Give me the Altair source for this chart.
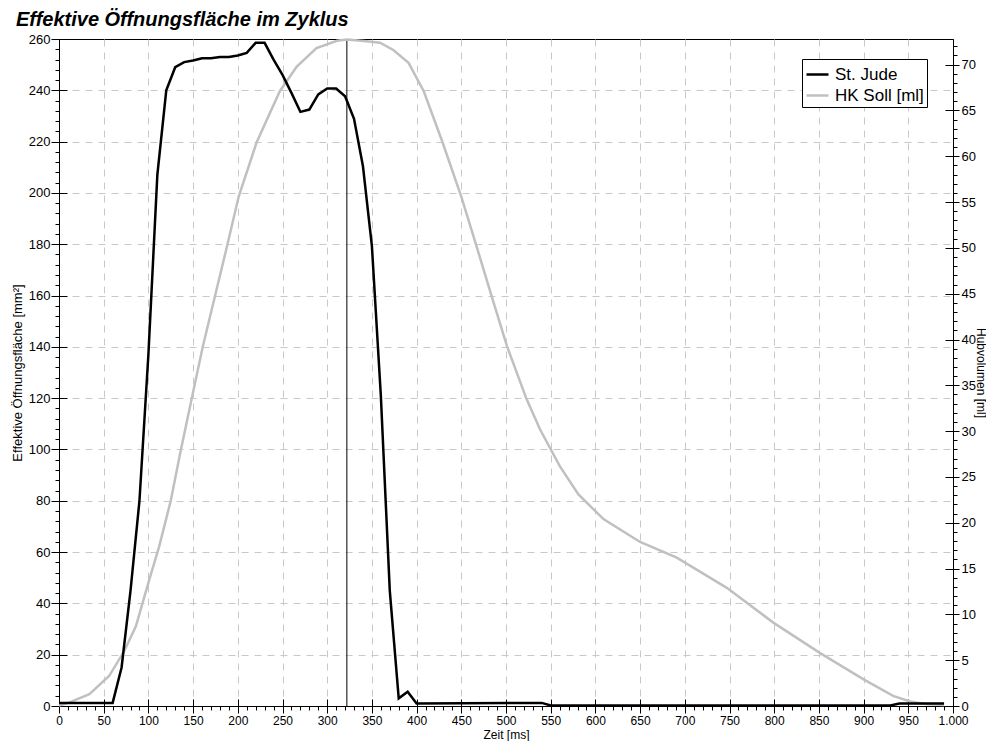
import altair as alt
import pandas as pd

# ---- data ----
jude_t = [0, 60, 70, 80, 90, 100, 110, 120, 130, 140, 150, 160, 170, 180, 190, 200,
          210, 220, 230, 240, 250, 260, 270, 280, 290, 300, 310, 320, 330, 340, 350,
          360, 370, 380, 390, 400, 540, 550, 930, 940, 990]
jude_v = [1.2, 1.2, 15, 45, 80, 137, 207, 240, 249, 251, 251.6, 252.5, 252.5, 253, 253, 253.6,
          254.6, 258.5, 258.5, 252, 246, 239, 231.6, 232.5, 238.4, 240.7, 240.7, 237.7, 228.9, 210.4, 179.3,
          121, 45, 3, 5.6, 1.0, 1.2, 0.2, 0.2, 1.0, 1.0]

hk_t = [0, 11, 34, 56, 73, 86, 101, 112, 125, 136, 149, 161, 188, 201, 221, 247, 266, 288,
        311, 322, 344, 359, 374, 391, 408, 428, 450, 467, 484, 501, 523, 538, 560, 581,
        609, 650, 691, 747, 799, 851, 900, 933, 952, 971, 990]
hk_ml = [0.05, 0.37, 1.28, 3.27, 6.0, 8.7, 13.8, 17.4, 22.4, 27.8, 33.8, 39.3, 50.2, 55.6, 61.5, 67.1, 69.8, 71.8,
         72.6, 72.75, 72.55, 72.4, 71.6, 70.2, 67.1, 61.8, 55.6, 50.2, 44.7, 39.3, 33.5, 30.2, 26.2, 23.1,
         20.4, 17.9, 16.2, 12.9, 9.1, 5.8, 2.9, 1.1, 0.5, 0.2, 0.1]

cursor_t = [322]

series_names = ["St. Jude", "HK Soll [ml]"]
series_colors = ["#000000", "#c0c0c0"]

x_major = list(range(0, 1001, 50))
x_minor = list(range(0, 1001, 10))
x_grid = list(range(50, 951, 50))
yl_major = list(range(0, 261, 20))
yl_minor = list(range(0, 261, 4))
yl_grid = list(range(20, 241, 20))
yr_major = list(range(0, 71, 5))
yr_minor = list(range(0, 73, 1))

W, H = 894, 667
FONT = "Liberation Sans"

jude = pd.DataFrame({"t": jude_t, "v": jude_v, "s": series_names[0]})
hk = pd.DataFrame({"t": hk_t, "ml": hk_ml, "s": series_names[1]})
cur = pd.DataFrame({"t": cursor_t})

xs = alt.Scale(domain=[0, 1000], nice=False, zero=False)
yls = alt.Scale(domain=[0, 260], nice=False, zero=False)
yrs = alt.Scale(domain=[0, 72.8], nice=False, zero=False)

color = alt.Color(
    "s:N",
    scale=alt.Scale(domain=series_names, range=series_colors),
    legend=alt.Legend(
        title=None, orient="none", legendX=743, legendY=20,
        strokeColor="black", fillColor="white", padding=3, cornerRadius=0,
        symbolType="stroke", symbolSize=484, symbolStrokeWidth=2.5,
        labelFont=FONT, labelFontSize=17, labelColor="black",
        rowPadding=-2, labelOffset=5,
    ),
)

x_main = alt.Axis(orient="bottom", values=x_major, title="Zeit [ms]", tickSize=7, labelPadding=2,
                  grid=False, labelFlush=False, titleFontSize=12, labelFontSize=12,
                  titleY=28, titleBaseline="middle",
                  labelExpr="datum.value == 1000 ? '1.000' : format(datum.value, 'd')")
x_in = alt.Axis(orient="bottom", values=x_major, title=None, labels=False, grid=False,
                domain=False, tickSize=7, offset=-7)
x_min = alt.Axis(orient="bottom", values=x_minor, title=None, labels=False, grid=False,
                 domain=False, tickSize=4)
x_gr = alt.Axis(orient="bottom", values=x_grid, title=None, labels=False, grid=True,
                domain=False, ticks=False)

yl_main = alt.Axis(orient="left", values=yl_major, title="Effektive Öffnungsfläche [mm²]",
                   tickSize=8, labelPadding=1, grid=False, labelFlush=False, titlePadding=4)
yl_in = alt.Axis(orient="left", values=yl_major, title=None, labels=False, grid=False,
                 domain=False, tickSize=8, offset=-8)
yl_min = alt.Axis(orient="left", values=yl_minor, title=None, labels=False, grid=False,
                  domain=False, tickSize=4)
yl_gr = alt.Axis(orient="left", values=yl_grid, title=None, labels=False, grid=True,
                 domain=False, ticks=False)

yr_main = alt.Axis(orient="right", values=yr_major, title="Hubvolumen [ml]", tickSize=6,
                   labelPadding=2, grid=False, labelFlush=False, titleFontSize=12,
                   titleX=27, titleY=H / 2, titleAngle=90, titleBaseline="middle", titleAlign="center")
yr_in = alt.Axis(orient="right", values=yr_major, title=None, labels=False, grid=False,
                 domain=False, tickSize=8, offset=-8)
yr_min = alt.Axis(orient="right", values=yr_minor, title=None, labels=False, grid=False,
                  domain=False, tickSize=4)

l_jude = alt.Chart(jude).mark_line(strokeWidth=2.5).encode(
    x=alt.X("t:Q", scale=xs, axis=x_main),
    y=alt.Y("v:Q", scale=yls, axis=yl_main),
    color=color,
)
l_hk = alt.Chart(hk).mark_line(strokeWidth=2.5).encode(
    x=alt.X("t:Q", scale=xs, axis=None),
    y=alt.Y("ml:Q", scale=yrs, axis=yr_main),
    color=color,
)
g_grid = alt.Chart(jude).mark_line(opacity=0).encode(
    x=alt.X("t:Q", scale=xs, axis=x_gr),
    y=alt.Y("v:Q", scale=yls, axis=yl_gr),
)
g_in_l = alt.Chart(jude).mark_line(opacity=0).encode(
    x=alt.X("t:Q", scale=xs, axis=x_in),
    y=alt.Y("v:Q", scale=yls, axis=yl_in),
)
g_min_l = alt.Chart(jude).mark_line(opacity=0).encode(
    x=alt.X("t:Q", scale=xs, axis=x_min),
    y=alt.Y("v:Q", scale=yls, axis=yl_min),
)
g_in_r = alt.Chart(hk).mark_line(opacity=0).encode(
    x=alt.X("t:Q", scale=xs, axis=None),
    y=alt.Y("ml:Q", scale=yrs, axis=yr_in),
)
g_min_r = alt.Chart(hk).mark_line(opacity=0).encode(
    x=alt.X("t:Q", scale=xs, axis=None),
    y=alt.Y("ml:Q", scale=yrs, axis=yr_min),
)
rule = alt.Chart(cur).mark_rule(color="black", strokeWidth=1).encode(
    x=alt.X("t:Q", scale=xs, axis=None),
)

chart = alt.layer(
    g_grid, g_in_l, g_min_l, g_in_r, g_min_r, rule, l_hk, l_jude
).resolve_scale(
    x="independent", y="independent"
).resolve_axis(
    x="independent", y="independent"
).properties(
    width=W, height=H,
    background="white",
    autosize=alt.AutoSizeParams(type="none"),
    padding={"left": 51, "top": 31, "right": 33, "bottom": 35},
    title=alt.TitleParams(
        "Effektive Öffnungsfläche im Zyklus", anchor="start", frame="group",
        font=FONT, fontSize=20, fontWeight="bold", fontStyle="italic", color="black",
        dx=-43, offset=3,
    ),
).configure_axis(
    labelFont=FONT, labelFontSize=13, labelColor="black",
    titleFont=FONT, titleFontSize=13, titleFontWeight="normal", titleColor="black",
    tickColor="black", tickWidth=1, domainColor="black", domainWidth=1,
    gridColor="#c8c8c8", gridDash=[7, 6], gridWidth=1,
).configure_view(
    stroke="black", strokeWidth=1,
)

chart.save("out.html", embed_options={"renderer": "svg", "actions": False})
